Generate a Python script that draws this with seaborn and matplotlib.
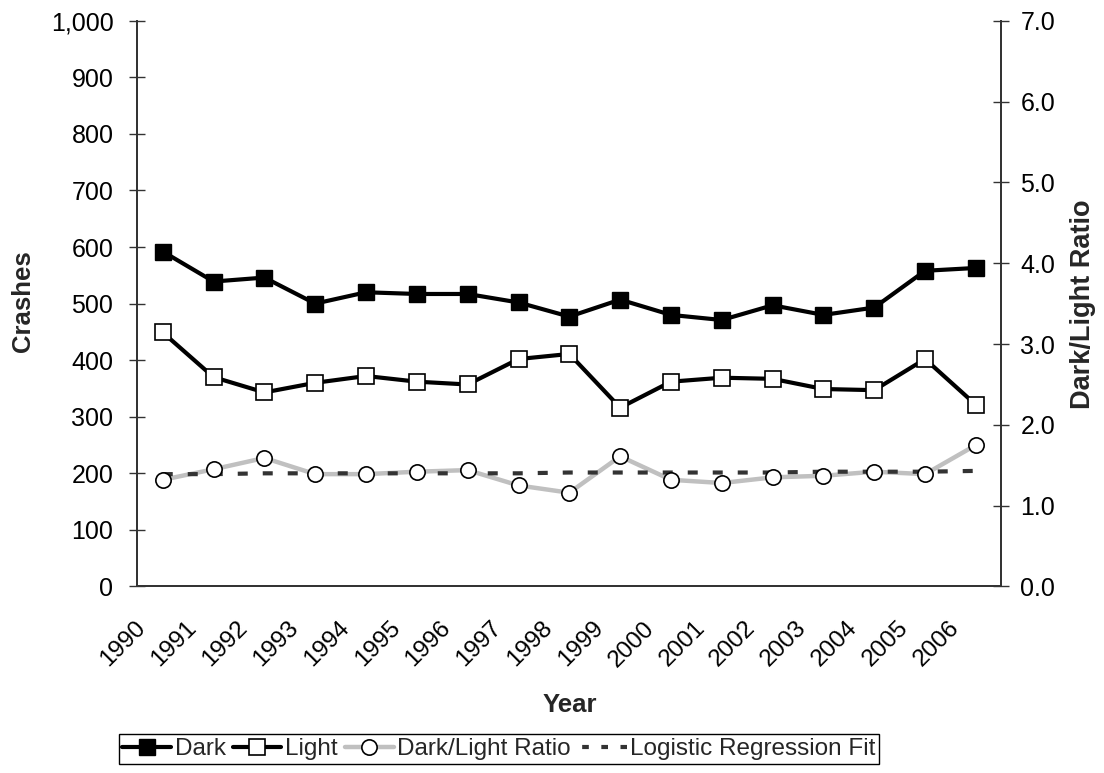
import matplotlib
matplotlib.use("Agg")
import matplotlib.pyplot as plt
import matplotlib.transforms as mtransforms
from matplotlib.lines import Line2D
from matplotlib.ticker import FuncFormatter, FixedLocator
import pandas as pd
import seaborn as sns

# Annual crash counts by lighting condition, 1990-2006
years = list(range(1990, 2007))
dark = [592, 539, 546, 500, 520, 517, 517, 502, 477, 507, 480, 471, 497, 480, 493, 558, 563]
light = [449, 370, 343, 360, 372, 362, 357, 402, 411, 316, 362, 369, 367, 349, 347, 402, 321]
ratio = [1.32, 1.45, 1.59, 1.39, 1.39, 1.42, 1.44, 1.25, 1.16, 1.61, 1.32, 1.28, 1.35, 1.37, 1.42, 1.39, 1.75]
fit = [1.39, 1.39, 1.40, 1.40, 1.40, 1.40, 1.40, 1.40, 1.41, 1.41, 1.41, 1.41, 1.41, 1.42, 1.42, 1.42, 1.43]

df = pd.DataFrame({"year": years, "dark": dark, "light": light,
                   "ratio": ratio, "fit": fit})

sns.set_style("white")
plt.rcParams["font.family"] = ["Liberation Sans", "DejaVu Sans"]
FS = 18
TICK_LEN = 11.5
FIT_DASH = (0, (2.4, 3.6))

fig = plt.figure(figsize=(11.04, 7.73), dpi=100)
ax = fig.add_axes([0.1244, 0.2413, 0.7826, 0.7319])
ax2 = ax.twinx()
ax.set_zorder(2)
ax.patch.set_visible(False)

# Crash counts on the left axis
sns.lineplot(data=df, x="year", y="dark", ax=ax, color="black", lw=3,
             marker="s", markersize=11, markerfacecolor="black",
             markeredgecolor="black", markeredgewidth=1, zorder=3)
sns.lineplot(data=df, x="year", y="light", ax=ax, color="black", lw=3,
             marker="s", markersize=11, markerfacecolor="white",
             markeredgecolor="black", markeredgewidth=1.2, zorder=3)

# Ratio and its fitted trend on the right axis
sns.lineplot(data=df, x="year", y="ratio", ax=ax2, color="#c0c0c0", lw=3.2,
             zorder=2)
sns.lineplot(data=df, x="year", y="fit", ax=ax2, color="#333333", lw=3,
             linestyle=FIT_DASH, zorder=2.5)
sns.lineplot(data=df, x="year", y="ratio", ax=ax2, linestyle="none",
             marker="o", markersize=11, markerfacecolor="white",
             markeredgecolor="black", markeredgewidth=1.2, zorder=3)

ax.set_xlim(1989.5, 2006.5)
ax.set_ylim(0, 1000)
ax2.set_ylim(0, 7)
ax.set_yticks(range(0, 1001, 100))
ax2.set_yticks([i * 1.0 for i in range(8)])
ax.yaxis.set_major_formatter(FuncFormatter(lambda v, p: f"{int(v):,}"))
ax2.yaxis.set_major_formatter(FuncFormatter(lambda v, p: f"{v:.1f}"))

ax.xaxis.set_major_locator(FixedLocator(years))
ax.xaxis.set_minor_locator(FixedLocator([y - 0.5 for y in years] + [2006.5]))
ax.set_xticklabels([str(y) for y in years], rotation=45, ha="right", va="top")

ax.tick_params(axis="x", which="major", length=0, pad=22, labelsize=17.5,
               colors="black")
ax.tick_params(axis="x", which="minor", direction="inout", length=TICK_LEN,
               width=1, color="#333333")
ax.tick_params(axis="y", direction="inout", length=TICK_LEN, width=1,
               color="#333333", pad=11.5, labelsize=FS, labelcolor="black")
ax2.tick_params(axis="y", direction="inout", length=TICK_LEN, width=1,
                color="#333333", pad=8, labelsize=FS, labelcolor="black")

for a in (ax, ax2):
    a.spines["top"].set_visible(False)
    for s in ("left", "right", "bottom"):
        a.spines[s].set_color("#333333")
        a.spines[s].set_linewidth(1.3)
    a.grid(False)

ax.set_xlabel("")
ax.set_ylabel("Crashes", fontsize=18.5, fontweight="bold")
ax.yaxis.set_label_coords(-0.1329, 0.505)
ax.yaxis.label.set_verticalalignment("center")
ax2.set_ylabel("Dark/Light Ratio", fontsize=19.5, fontweight="bold")
ax2.yaxis.set_label_coords(1.0946, 0.498)
ax2.yaxis.label.set_verticalalignment("center")
ax.text(0.5, -0.209, "Year", transform=ax.transAxes, ha="center",
        va="center", fontsize=18.5, fontweight="bold")

handles = [
    Line2D([], [], color="black", lw=3, marker="s", markersize=11,
           markerfacecolor="black", markeredgecolor="black"),
    Line2D([], [], color="black", lw=3, marker="s", markersize=11,
           markerfacecolor="white", markeredgecolor="black", markeredgewidth=1.2),
    Line2D([], [], color="#c0c0c0", lw=3.2, marker="o", markersize=11,
           markerfacecolor="white", markeredgecolor="black", markeredgewidth=1.2),
    Line2D([], [], color="#333333", lw=3, linestyle=(-1.0, (1.6, 3.0))),
]
labels = ["Dark", "Light", "Dark/Light Ratio", "Logistic Regression Fit"]
leg = fig.legend(handles, labels, loc="center", ncol=4,
                 bbox_to_anchor=(0.452, 0.031), fontsize=17.5, frameon=True,
                 fancybox=False, edgecolor="black", framealpha=1,
                 handlelength=2.0, handletextpad=0.15, columnspacing=0.3,
                 borderpad=0.15, borderaxespad=0)
leg.get_frame().set_linewidth(1.0)

# Nudge the rotated year labels so their ends sit just left of each year
shift = mtransforms.ScaledTranslation(-9 / 72, 0, fig.dpi_scale_trans)
for lbl in ax.get_xticklabels():
    lbl.set_transform(lbl.get_transform() + shift)

fig.savefig("out.png", dpi=100)
